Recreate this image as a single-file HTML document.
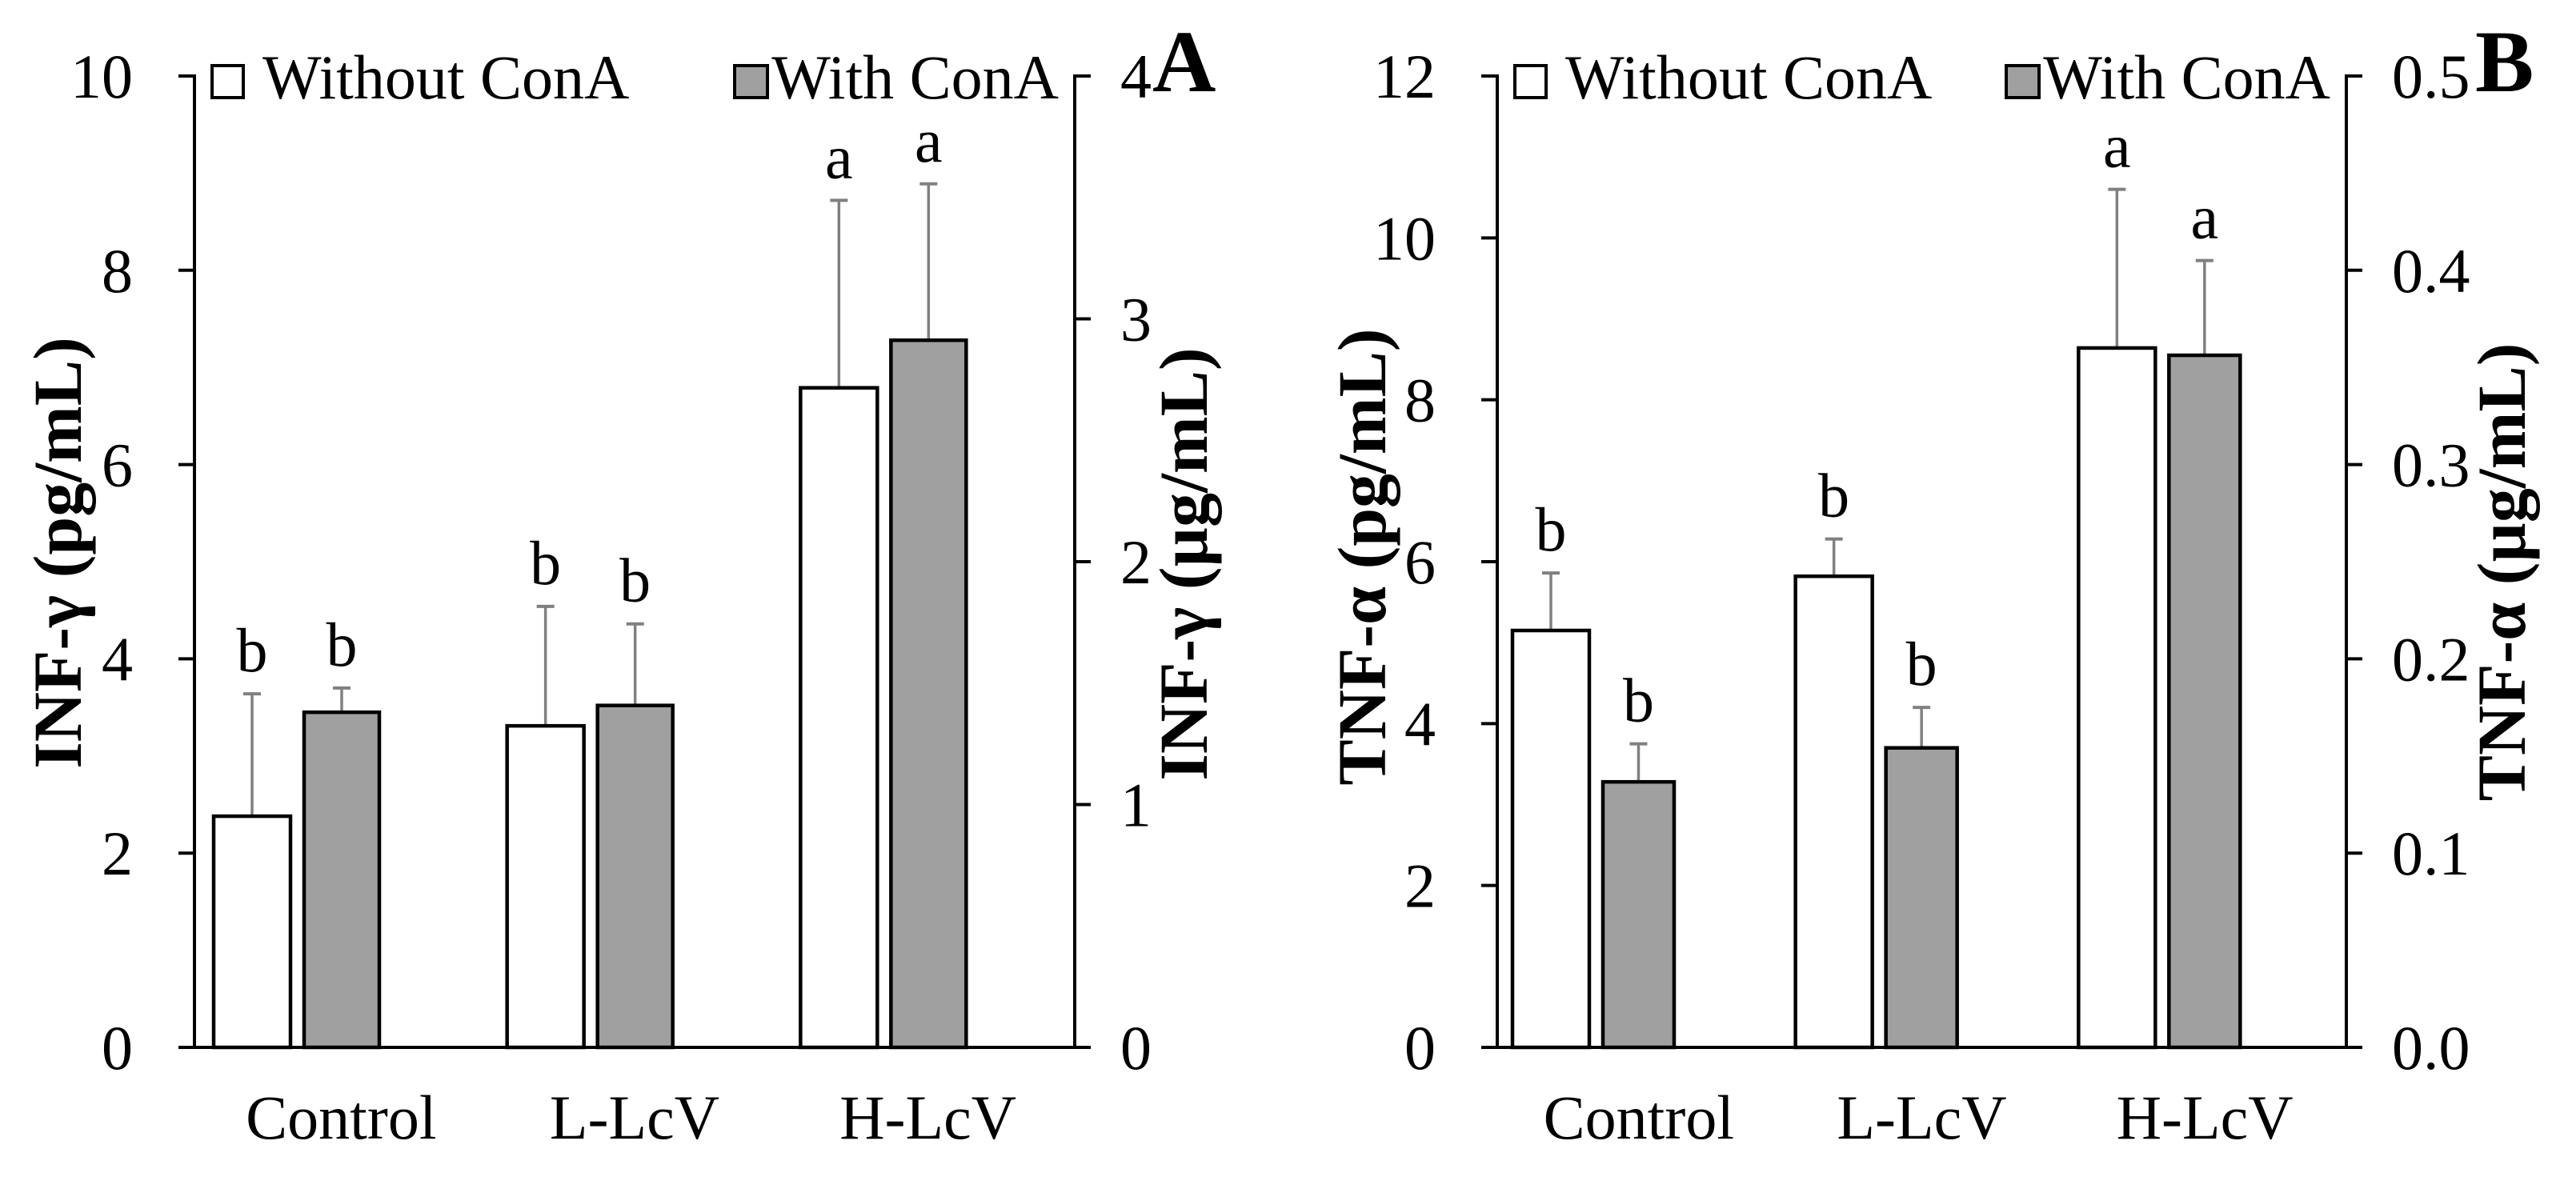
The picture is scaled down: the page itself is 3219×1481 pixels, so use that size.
<!DOCTYPE html>
<html><head><meta charset="utf-8"><style>
html,body{margin:0;padding:0;background:#fff}
svg{display:block}
text{font-family:"Liberation Serif","DejaVu Serif",serif;fill:#000}
</style></head><body>
<svg id="chart" width="3219" height="1481" viewBox="0 0 3219 1481" xmlns="http://www.w3.org/2000/svg"></svg>
<script>
const categories = ["Control", "L-LcV", "H-LcV"];
const inflWithout = [2.38, 3.31, 6.79];
const inflWithoutErr = [3.64, 4.54, 8.72];
const inflWith = [3.45, 3.52, 7.28];
const inflWithErr = [3.70, 4.36, 8.89];
const inflLettersWithout = ["b", "b", "a"];
const inflLettersWith = ["b", "b", "a"];
const inflLeftTicks = [0, 2, 4, 6, 8, 10];
const inflRightTicks = ["0", "1", "2", "3", "4"];

const tnfWithout = [5.15, 5.82, 8.64];
const tnfWithoutErr = [5.86, 6.28, 10.60];
const tnfWith = [3.28, 3.70, 8.55];
const tnfWithErr = [3.75, 4.20, 9.72];
const tnfLettersWithout = ["b", "b", "a"];
const tnfLettersWith = ["b", "b", "a"];
const tnfLeftTicks = [0, 2, 4, 6, 8, 10, 12];
const tnfRightTicks = ["0.0", "0.1", "0.2", "0.3", "0.4", "0.5"];

const NS = "http://www.w3.org/2000/svg";
const svg = document.getElementById("chart");
function mk(tag, attrs, parent, txt) {
  const e = document.createElementNS(NS, tag);
  for (const k in attrs) e.setAttribute(k, attrs[k]);
  if (txt !== undefined) e.textContent = txt;
  (parent || svg).appendChild(e);
  return e;
}

function panel(cfg) {
  const g = mk("g", {});
  
  
  const top = 95, bottom = 1309;
  const yMax = cfg.leftTicks[cfg.leftTicks.length - 1];
  const y = v => bottom - (v / yMax) * (bottom - top);
  const catW = (cfg.xr - cfg.xl) / categories.length;

  const la = mk("line", {x1: cfg.xl, y1: top - 2, x2: cfg.xl, y2: bottom + 2, stroke: "#000", "stroke-width": 4}, g);
  
  
  cfg.leftTicks.forEach(t => {
    const tk = mk("line", {x1: cfg.xl - 20, y1: y(t), x2: cfg.xl, y2: y(t), stroke: "#000", "stroke-width": 4}, g);
    
    
    const tl = mk("text", {x: cfg.xl - 77, y: y(t) + 27, "font-size": 78, "text-anchor": "end"}, g, String(t));
    
    
  });
  const ra = mk("line", {x1: cfg.xr, y1: top - 2, x2: cfg.xr, y2: bottom + 2, stroke: "#000", "stroke-width": 4}, g);
  
  
  const n = cfg.rightTicks.length - 1;
  cfg.rightTicks.forEach((t, i) => {
    const yy = bottom - i / n * (bottom - top);
    const tk = mk("line", {x1: cfg.xr, y1: yy, x2: cfg.xr + 20, y2: yy, stroke: "#000", "stroke-width": 4}, g);
    
    
    const tl = mk("text", {x: cfg.xr + 57, y: yy + 27, "font-size": 78}, g, t);
    
    
  });
  const xa = mk("line", {x1: cfg.xl - 20, y1: bottom, x2: cfg.xr, y2: bottom, stroke: "#000", "stroke-width": 4}, g);
  
  

  categories.forEach((c, i) => {
    const cs = cfg.xl + i * catW;
    const cl = mk("text", {x: cs + catW / 2, y: 1423, "font-size": 78, "text-anchor": "middle"}, g, c);
    
    
    const series = [
      {v: cfg.without[i], e: cfg.withoutErr[i], l: cfg.lw[i], x: cs + cfg.wOff, w: cfg.wW, fill: "#fff", nm: "bar-without-cona"},
      {v: cfg.with[i], e: cfg.withErr[i], l: cfg.lg[i], x: cs + cfg.gOff, w: cfg.gW, fill: "#a0a0a0", nm: "bar-with-cona"}
    ];
    series.forEach(s => {
      const cx = s.x + s.w / 2;
      const el = mk("line", {x1: cx, y1: y(s.e), x2: cx, y2: y(s.v), stroke: "#808080", "stroke-width": 3.5}, g);
      
      
      const ec = mk("line", {x1: cx - 11, y1: y(s.e), x2: cx + 11, y2: y(s.e), stroke: "#808080", "stroke-width": 4}, g);
      
      
      const r = mk("rect", {x: s.x, y: y(s.v), width: s.w, height: bottom - y(s.v), fill: s.fill, stroke: "#000", "stroke-width": 4.5}, g);
      
      
      const lt = mk("text", {x: cx, y: y(s.e) - 28, "font-size": 78, "text-anchor": "middle"}, g, s.l);
      
      
    });
  });

  const b1 = mk("rect", {x: cfg.xl + 22, y: 82, width: 39, height: 40, fill: "#fff", stroke: "#000", "stroke-width": 4}, g);
  
  
  const t1 = mk("text", {x: cfg.xl + 85, y: 123, "font-size": 78}, g, "Without ConA");
  
  
  const b2 = mk("rect", {x: cfg.xr - 425, y: 82, width: 41, height: 40, fill: "#a0a0a0", stroke: "#000", "stroke-width": 4}, g);
  
  
  const t2 = mk("text", {x: cfg.xr - 20, y: 123, "font-size": 78, "text-anchor": "end"}, g, "With ConA");
  
  

  const lt = mk("text", {x: 0, y: 0, "font-size": 86, "font-weight": "bold", "text-anchor": "middle", transform: `translate(${cfg.ltx},${cfg.lty}) rotate(-90)`}, g, cfg.leftTitle);
  
  
  const rt = mk("text", {x: 0, y: 0, "font-size": 86, "font-weight": "bold", "text-anchor": "middle", transform: `translate(${cfg.rtx},${cfg.rty}) rotate(-90)`}, g, cfg.rightTitle);
  
  
  const pl = mk("text", {x: cfg.plx, y: 114, "font-size": 110, "font-weight": "bold"}, g, cfg.letter);
  
  
}

panel({name: "panel-a-infg", xl: 243, xr: 1343, leftTicks: inflLeftTicks, rightTicks: inflRightTicks,
  without: inflWithout, withoutErr: inflWithoutErr, with: inflWith, withErr: inflWithErr,
  lw: inflLettersWithout, lg: inflLettersWith, wOff: 24, wW: 96, gOff: 137, gW: 94,
  leftTitle: "INF-γ (pg/mL)", rightTitle: "INF-γ (µg/mL)", ltx: 101, lty: 691, rtx: 1508, rty: 705,
  letter: "A", plx: 1440});
panel({name: "panel-b-tnfa", xl: 1871, xr: 2932, leftTicks: tnfLeftTicks, rightTicks: tnfRightTicks,
  without: tnfWithout, withoutErr: tnfWithoutErr, with: tnfWith, withErr: tnfWithErr,
  lw: tnfLettersWithout, lg: tnfLettersWith, wOff: 19, wW: 96, gOff: 132, gW: 89,
  leftTitle: "TNF-α (pg/mL)", rightTitle: "TNF-α (µg/mL)", ltx: 1731, lty: 696, rtx: 3155, rty: 715,
  letter: "B", plx: 3093});
</script>
</body></html>
